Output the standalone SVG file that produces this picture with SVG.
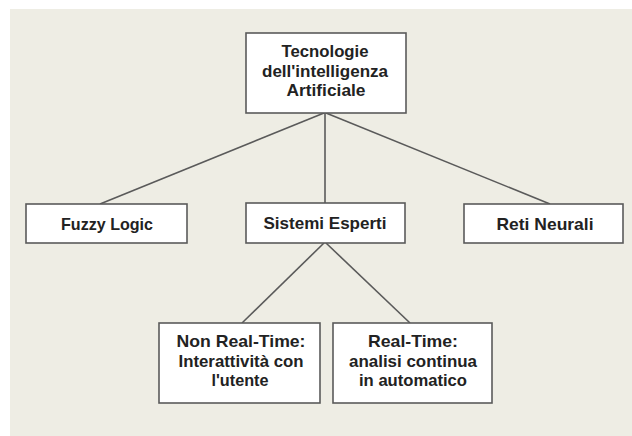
<svg xmlns="http://www.w3.org/2000/svg" width="632" height="436" viewBox="0 0 632 436">
  <style>
    .bg { fill: #eeede4; }
    .box { fill: #ffffff; stroke: #5a5a5a; stroke-width: 1.6; }
    .lbl { font-family: "Liberation Sans", Arial, sans-serif; font-weight: bold; font-size: 17px; fill: #222222; text-anchor: middle; }
    .link { stroke: #5a5a5a; stroke-width: 1.6; fill: none; }
  </style>
  <rect width="632" height="436" fill="#ffffff"/>
  <rect class="bg" x="10" y="9" width="622" height="427"/>

  <g id="connectors">
    <line class="link" x1="324" y1="113" x2="100" y2="204"/>
    <line class="link" x1="325" y1="113" x2="325" y2="203"/>
    <line class="link" x1="326" y1="113" x2="550" y2="204"/>
    <line class="link" x1="324" y1="243" x2="242" y2="323"/>
    <line class="link" x1="326" y1="243" x2="410" y2="323"/>
  </g>

  <g id="node-tecnologie">
    <rect class="box" x="246" y="33" width="160" height="80"/>
    <text class="lbl" x="325" y="57" textLength="87" lengthAdjust="spacingAndGlyphs">Tecnologie</text>
    <text class="lbl" x="325" y="77" textLength="126" lengthAdjust="spacingAndGlyphs">dell'intelligenza</text>
    <text class="lbl" x="326" y="96" textLength="79" lengthAdjust="spacingAndGlyphs">Artificiale</text>
  </g>

  <g id="node-fuzzy">
    <rect class="box" x="26" y="204" width="161" height="39"/>
    <text class="lbl" x="107" y="230" textLength="92" lengthAdjust="spacingAndGlyphs">Fuzzy Logic</text>
  </g>

  <g id="node-sistemi">
    <rect class="box" x="246" y="203" width="159" height="40"/>
    <text class="lbl" x="325" y="229" textLength="123" lengthAdjust="spacingAndGlyphs">Sistemi Esperti</text>
  </g>

  <g id="node-reti">
    <rect class="box" x="464" y="204" width="159" height="39"/>
    <text class="lbl" x="545" y="230" textLength="97" lengthAdjust="spacingAndGlyphs">Reti Neurali</text>
  </g>

  <g id="node-nonrealtime">
    <rect class="box" x="159" y="323" width="161" height="80"/>
    <text class="lbl" x="241" y="347" textLength="129" lengthAdjust="spacingAndGlyphs">Non Real-Time:</text>
    <text class="lbl" x="241" y="367" textLength="125" lengthAdjust="spacingAndGlyphs">Interattività con</text>
    <text class="lbl" x="240" y="386" textLength="57" lengthAdjust="spacingAndGlyphs">l'utente</text>
  </g>

  <g id="node-realtime">
    <rect class="box" x="333" y="323" width="159" height="80"/>
    <text class="lbl" x="413" y="347" textLength="90" lengthAdjust="spacingAndGlyphs">Real-Time:</text>
    <text class="lbl" x="413" y="367" textLength="128" lengthAdjust="spacingAndGlyphs">analisi continua</text>
    <text class="lbl" x="413" y="386" textLength="108" lengthAdjust="spacingAndGlyphs">in automatico</text>
  </g>
</svg>
